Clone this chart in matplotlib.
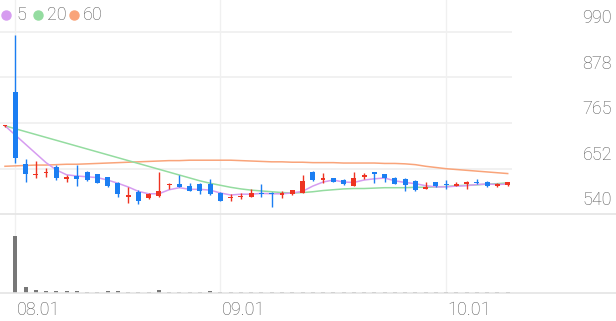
import numpy as np
import matplotlib
matplotlib.use("Agg")
import matplotlib.pyplot as plt
from matplotlib.lines import Line2D
from matplotlib.transforms import blended_transform_factory

plt.rcParams["font.family"] = ["Roboto", "DejaVu Sans"]
plt.rcParams["font.weight"] = "light"

# daily OHLC, index 0 = first visible day
opens = [757, 842, 664, 636, 641, 657, 627, 634, 645, 639,
         631, 617, 583, 594, 579, 585, 611, 614, 608, 614,
         614, 593, 579, 581, 583, 593, 593, 588, 589, 593,
         645, 625, 628, 624, 610, 632, 642, 639, 630, 627,
         622, 602, 619, 614, 609, 614, 620, 620, 610, 611]
highs = [760, 983, 676, 671, 654, 660, 636, 661, 647, 640,
         632, 618, 607, 599, 591, 643, 616, 636, 617, 616,
         626, 595, 589, 593, 601, 613, 594, 598, 600, 636,
         646, 641, 629, 626, 645, 641, 643, 640, 631, 628,
         623, 619, 620, 624, 620, 622, 626, 621, 616, 620]
lows = [756, 666, 619, 629, 632, 624, 620, 610, 621, 616,
        607, 583, 566, 565, 577, 583, 601, 606, 596, 589,
        587, 571, 571, 576, 582, 583, 558, 579, 588, 592,
        622, 616, 619, 612, 609, 626, 616, 620, 613, 598,
        597, 601, 606, 603, 608, 602, 615, 607, 606, 608]
closes = [759, 678, 639, 639, 644, 630, 629, 627, 623, 617,
          609, 589, 586, 573, 589, 597, 614, 607, 598, 598,
          589, 573, 583, 584, 591, 589, 589, 591, 599, 622,
          623, 628, 620, 614, 630, 634, 639, 628, 614, 612,
          599, 606, 608, 611, 611, 620, 616, 608, 612, 618]
volumes = [0, 100, 11, 6, 4, 4, 3, 3.5, 2.5, 2.5,
           3, 3.5, 2, 2, 2, 6, 2, 2.5, 2, 2,
           4, 2.5, 2, 2, 2, 1.5, 1.5, 1.5, 1.5, 1.5,
           1.5, 1.5, 1.5, 1.5, 2.5, 1.5, 1.5, 1.5, 1.5, 2.5,
           1.5, 1.5, 1.5, 1.5, 1.5, 1.5, 1.5, 1.5, 1.5, 1.5]

nan = np.nan
ma5 = [758, nan, nan, nan, 667, 649, 637, 634, 632, 630,
       624, 616, 607, 596, 590, 590, 600, 605, 601, 601,
       599, 592, 587, 589, 589, 591, 590, 590, 592, 596,
       609, 619, 624, 619, 618, 624, 627, 629, 622, 618,
       615, 610, 607, 607, 609, 610, 613, 614, 613, 614]
ma20 = [758, nan, nan, nan, nan, nan, nan, nan, nan, nan,
        nan, nan, nan, nan, nan, nan, nan, nan, nan, 622,
        616, 611, 606, 602, 599, 597, 595, 593, 592, 593,
        595, 598, 600, 602, 603, 603, 604, 605, 605, 605,
        606, 606, 607, 608, 610, 611, 612, 614, 615, 617]
ma60 = [658, 659, 660, 661, 661, 662, 663, 663, 664, 665,
        666, 667, 668, 669, 670, 671, 672, 672, 673, 673,
        673, 673, 673, 672, 671, 670, 669, 669, 668, 668,
        667, 667, 667, 666, 666, 666, 666, 665, 665, 664,
        662, 658, 655, 652, 650, 648, 646, 644, 642, 640]

price_ticks = [540, 652, 765, 878, 990]
tick_idx = [1, 21, 43]
tick_labels = ["08.01", "09.01", "10.01"]

RED = "#ee3322"
BLUE = "#1b7ef2"
C5, C20, C60 = "#d69cf0", "#94dca0", "#f9a47a"
GRID = "#f0f0f0"
TXT = "#555555"
FS = 13

W, H = 616, 321
fig = plt.figure(figsize=(W / 100, H / 100), dpi=100)
ax = fig.add_axes([0, 1 - 214 / H, 512 / W, 214 / H])
axv = fig.add_axes([0, 1 - 293 / H, 512 / W, 79 / H], sharex=ax)

x = np.arange(len(closes))
for a in (ax, axv):
    a.set_xlim(-0.487, 49.42)
    a.axis("off")
    for t in tick_idx:
        a.axvline(t, color=GRID, lw=1, zorder=0)

ax.set_ylim(540, 1069.1)
for p in price_ticks[1:]:
    ax.axhline(p, color=GRID, lw=1.3, zorder=0)

# moving averages (gaps bridged by straight segments)
for ma, col in ((ma60, C60), (ma20, C20), (ma5, C5)):
    m = np.array(ma, dtype=float)
    ok = ~np.isnan(m)
    ax.plot(x[ok], m[ok], color=col, lw=1.1, zorder=2)

# candles
o, h, l, c = map(np.array, (opens, highs, lows, closes))
cols = [RED if cc >= oo else BLUE for oo, cc in zip(o, c)]
ax.vlines(x, l, h, colors=cols, lw=1.0, zorder=3)
body_lo = np.minimum(o, c)
body_h = np.maximum(np.abs(c - o), 4)
ax.bar(x, body_h, bottom=body_lo, width=0.48, color=cols, zorder=4)

# volume
axv.set_ylim(0, 137.9)
axv.bar(x, volumes, width=0.39, color="#777777", zorder=3)

# full-width baselines
for py in (214, 293):
    fig.add_artist(Line2D([0, 1], [1 - py / H] * 2, transform=fig.transFigure,
                          color="#e4e4e4", lw=1.2))

# price labels on the right
tr = blended_transform_factory(fig.transFigure, ax.transData)
for p in price_ticks:
    ax.text(612 / W, p + 13.5 * 2.4725, f"{p}", transform=tr, ha="right",
            va="center", fontsize=FS, color=TXT, clip_on=False)

# date labels
trx = blended_transform_factory(axv.transData, fig.transFigure)
for t, lab in zip(tick_idx, tick_labels):
    axv.text(t + 0.12, 1 - 310 / H, lab, transform=trx, ha="left", va="center",
             fontsize=FS, color=TXT, clip_on=False)

# legend
for cx, tx, col, lab in ((6, 16, C5, "5"), (38, 47, C20, "20"), (73.5, 83, C60, "60")):
    fig.add_artist(Line2D([cx / W], [1 - 15 / H], marker="o", markersize=6.5,
                          color=col, transform=fig.transFigure))
    fig.text(tx / W, 1 - 14.5 / H, lab, ha="left", va="center", fontsize=FS,
             color=TXT)

fig.savefig("out.png", dpi=100)
